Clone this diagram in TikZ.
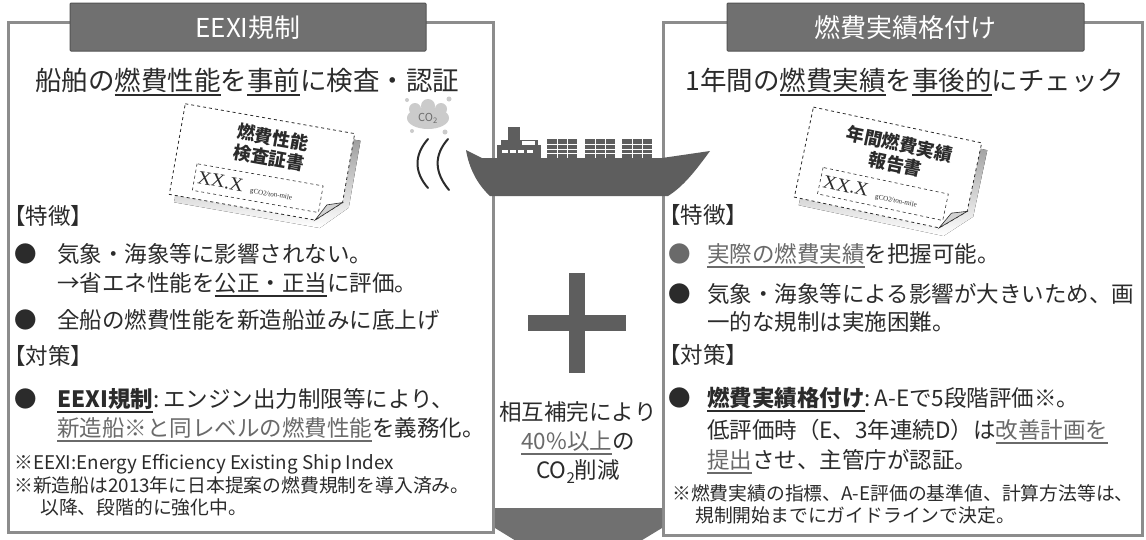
\documentclass[tikz,border=0pt]{standalone}
\usepackage{fontspec}
\setmainfont{Noto Sans CJK JP}
\newfontfamily\docserif{Liberation Serif}
\definecolor{ink}{HTML}{2B2B2B}
\definecolor{soft}{HTML}{6A6A6A}
\definecolor{frame}{HTML}{8C8C8C}
\definecolor{band}{HTML}{707070}
\definecolor{hull}{HTML}{5E5E5E}
\definecolor{smoke}{HTML}{CBCBCB}
\definecolor{shade}{HTML}{B4B4B4}

\newcommand\ulin[1]{\setbox0\hbox{#1}\rlap{\rule[-5.5pt]{\wd0}{1.6pt}}\box0}

% tilted certificate sheet, drawn around (0,0)
\newcommand\sheet[3]{%
  \fill[shade] (-80,-40) -- (93,-40) -- (93,28) -- (68,53) -- (-80,53) -- cycle;
  \draw[dashed, fill=white, draw=ink, line width=0.8pt] (-86,-46) -- (86,-46) -- (86,24) -- (62,46) -- (-86,46) -- cycle;
  \filldraw[fill=shade!60, draw=ink, line width=0.6pt] (86,24) -- (62,46) -- (71,29) -- cycle;
  \draw[dashed, draw=ink, line width=0.6pt] (-64,11) rectangle (64,38);
  \node[sheettext] (#1-a) at (6,-28) {#2};
  \node[sheettext] (#1-b) at (6,-7) {#3};
  \node[anchor=west, inner sep=0pt, text=ink, transform shape] (#1-v) at (-61,25)
    {\docserif\fontsize{19}{19}\selectfont XX.X\, \fontsize{7}{7}\selectfont gCO2/ton-mile};
}

\tikzset{
  panel/.style={draw=frame, line width=3pt, fill=white},
  banner/.style={fill=band, draw=band!75!black, line width=1pt, rounded corners=1pt},
  bannertext/.style={text=white, inner sep=0pt, font=\fontsize{26}{26}\selectfont},
  headline/.style={text=ink, inner sep=0pt, font=\fontsize{26.5}{27}\selectfont},
  bodyrow/.style={anchor=west, inner sep=0pt, text=ink, text height=19.8pt, text depth=2.7pt,
    font=\fontsize{22.5}{23}\selectfont},
  noterow/.style={anchor=west, inner sep=0pt, text=ink, text height=16.5pt, text depth=2.3pt,
    font=\fontsize{18.8}{19}\selectfont},
  sheettext/.style={text=ink, inner sep=0pt, transform shape, font=\fontsize{18}{18}\selectfont\bfseries},
}

\begin{document}
\begin{tikzpicture}[x=1pt, y=-1pt]
  \useasboundingbox (0,0) rectangle (1146,539);
  \clip (0,0) rectangle (1146,539);
  \fill[white] (0,0) rectangle (1146,539);

  % the two panels
  \draw[panel] (8,22) rectangle (493,532);
  \draw[panel] (663,22) rectangle (1142,535);
  \draw[banner] (70,3) rectangle (426,51);
  \draw[banner] (727,3) rectangle (1084,51);
  \node[bannertext] (lname) at (248,28) {EEXI規制};
  \node[bannertext] (rname) at (905,28) {燃費実績格付け};

  \node[headline] (lhead) at (247,82) {船舶の\ulin{燃費性能}を\ulin{事前}に検査・認証};
  \node[headline] (rhead) at (905,82) {1年間の\ulin{燃費実績}を\ulin{事後的}にチェック};

  % left panel text
  \node[bodyrow] (lf) at (3,216) {【特徴】};
  \node[bodyrow] (lb1) at (14,254) {\makebox[43pt][l]{●}気象・海象等に影響されない。};
  \node[bodyrow] (lb1b) at (57,283) {→省エネ性能を\ulin{公正・正当}に評価。};
  \node[bodyrow] (lb2) at (14,320) {\makebox[43pt][l]{●}全船の燃費性能を新造船並みに底上げ};
  \node[bodyrow] (lt) at (3,356) {【対策】};
  \node[bodyrow] (lm1) at (14,399) {\makebox[43pt][l]{●}\ulin{\bfseries EEXI規制}:\,エンジン出力制限等により、};
  \node[bodyrow] (lm1b) at (57,428) {{\color{soft}\ulin{新造船※と同レベルの燃費性能}}を義務化。};
  \node[noterow] (ln1) at (14,462) {※EEXI:Energy Efficiency Existing Ship Index};
  \node[noterow] (ln2) at (14,485) {※新造船は2013年に日本提案の燃費規制を導入済み。};
  \node[noterow] (ln3) at (40,507) {以降、段階的に強化中。};

  % right panel text
  \node[bodyrow] (rf) at (658,215) {【特徴】};
  \node[bodyrow] (rb1) at (668,254) {{\color{soft}\makebox[39pt][l]{●}\ulin{実際の燃費実績}}を把握可能。};
  \node[bodyrow] (rb2) at (668,294) {\makebox[39pt][l]{●}気象・海象等による影響が大きいため、画};
  \node[bodyrow] (rb2b) at (707,322) {一的な規制は実施困難。};
  \node[bodyrow] (rt) at (658,355) {【対策】};
  \node[bodyrow] (rm1) at (668,398) {\makebox[39pt][l]{●}\ulin{\bfseries 燃費実績格付け}:\,A-Eで5段階評価※。};
  \node[bodyrow] (rm1b) at (707,430) {低評価時（E、3年連続D）は{\color{soft}\ulin{改善計画を}}};
  \node[bodyrow] (rm1c) at (707,460) {{\color{soft}\ulin{提出}}させ、主管庁が認証。};
  \node[noterow] (rn1) at (672,493) {※燃費実績の指標、A-E評価の基準値、計算方法等は、};
  \node[noterow] (rn2) at (695,515) {規制開始までにガイドラインで決定。};

  % certificates
  \begin{scope}[shift={(262,164)}, rotate=-10]
    \sheet{lsheet}{燃費性能}{検査証書}
  \end{scope}
  \begin{scope}[shift={(888,170)}, rotate=-12]
    \sheet{rsheet}{年間燃費実績}{報告書}
  \end{scope}

  % middle column
  \fill[band] (495,508) -- (662,508) -- (662,528) -- (578,579) -- (495,528) -- cycle;
  \fill[hull] (569,273) rectangle (585,373);
  \fill[hull] (528,315) rectangle (626,331);
  \node[bodyrow, anchor=center] (c1) at (578,412) {相互補完により};
  \node[bodyrow, anchor=center] (c2) at (578,441) {{\color{soft}\ulin{40\%以上}}の};
  \node[bodyrow, anchor=center] (c3) at (578,470) {CO\raisebox{-5pt}{\fontsize{15}{15}\selectfont 2}削減};

  % ship
  \fill[hull] (466,150) -- (482,158) -- (662,158) -- (710,151)
    .. controls (696,170) and (684,186) .. (668,196) -- (490,196)
    .. controls (477,184) and (469,168) .. (466,150) -- cycle;
  \fill[hull] (508,127) rectangle (520,141);
  \fill[hull] (501,140) rectangle (538,146);
  \fill[white] (522,141) rectangle (535,145);
  \fill[hull] (497,145) rectangle (541,159);
  \foreach \w in {502,510,518,527}
    \fill[white] (\w,150) rectangle ++(6,3);
  \foreach \s in {547,585,622} {
    \fill[hull] (\s,139) rectangle ++(30,19);
    \foreach \c in {10,20}
      \draw[white, line width=0.8pt] (\s+\c,139) -- ++(0,19);
    \foreach \r in {5,10,14}
      \draw[white, line width=0.8pt] (\s,139+\r) -- ++(30,0);
  }

  % exhaust cloud
  \fill[smoke] (428,118) ellipse [x radius=21, y radius=11];
  \fill[smoke] (415,109) circle (6) (428,106) circle (7) (441,109) circle (6);
  \fill[smoke] (407,100) circle (2) (449,99) circle (2.5) (412,131) circle (2) (445,132) circle (2.5);
  \node[text=soft, inner sep=0pt, font=\fontsize{11}{11}\selectfont] (co2) at (428,118) {CO\textsubscript{2}};
  \draw[ink, line width=2pt, line cap=round] (428,139) .. controls (414,155) and (414,172) .. (428,188);
  \draw[ink, line width=2pt, line cap=round] (448,139) .. controls (434,155) and (434,172) .. (449,190);
\end{tikzpicture}
\end{document}
